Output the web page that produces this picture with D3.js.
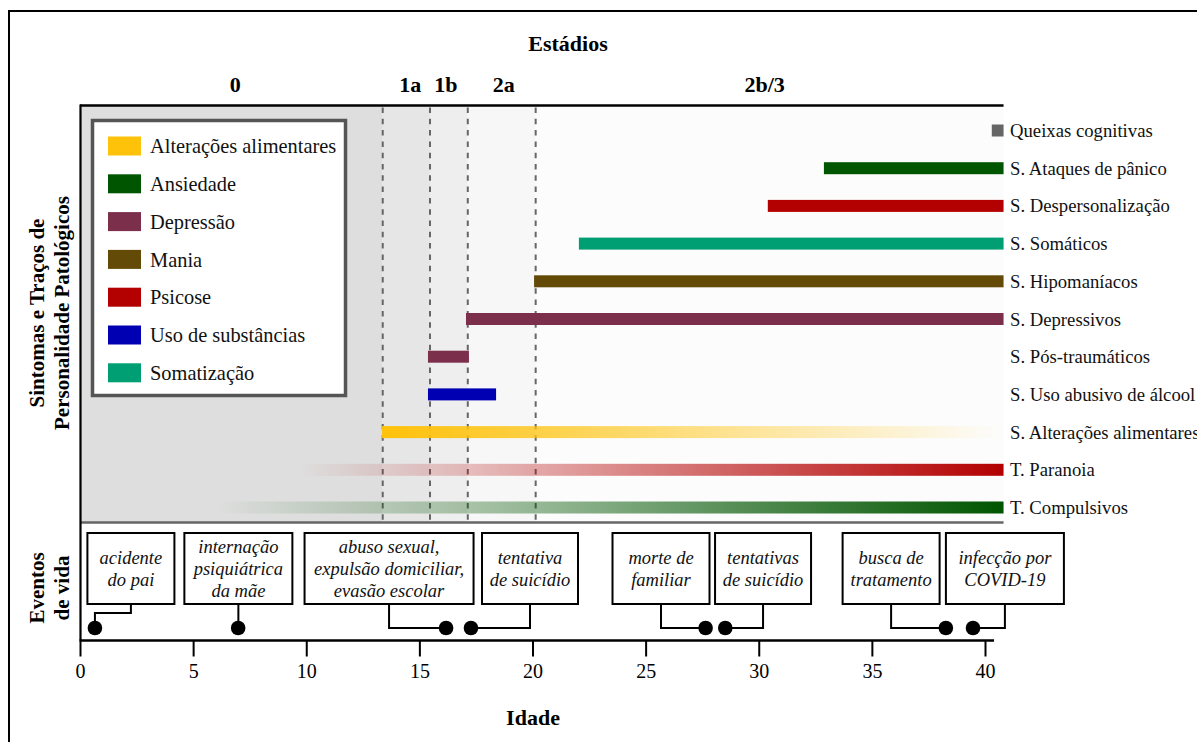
<!DOCTYPE html>
<html><head><meta charset="utf-8">
<script src="https://cdn.jsdelivr.net/npm/d3@7"></script>
<style>
body{margin:0;background:#fff}
svg{display:block;font-family:"Liberation Serif","Times New Roman",serif}
</style>
</head><body><svg id="c" width="1197" height="742"></svg>
<script>
// ---------------- data ----------------
const stageLabels = ["0", "1a", "1b", "2a", "2b/3"];
const stageBounds = [0, 13.38, 15.47, 17.14, 20.14, 40.82];
const stageFills = ["#dedede", "#e6e6e6", "#eeeeee", "#f7f7f7", "#fcfcfc"];

const legendCategories = ["Alterações alimentares", "Ansiedade", "Depressão", "Mania", "Psicose", "Uso de substâncias", "Somatização"];
const legendColors = ["#ffc20a", "#005500", "#7b2f4b", "#634a07", "#b30000", "#0000b3", "#009e73"];

const rowLabels = ["Queixas cognitivas", "S. Ataques de pânico", "S. Despersonalização", "S. Somáticos", "S. Hipomaníacos", "S. Depressivos", "S. Pós-traumáticos", "S. Uso abusivo de álcool", "S. Alterações alimentares", "T. Paranoia", "T. Compulsivos"];
const barStart = [40.3, 32.88, 30.4, 22.05, 20.07, 17.06, 15.38, 15.38, 13.35, 9.7, 6.0];
const barEnd = [40.82, 40.82, 40.82, 40.82, 40.82, 40.82, 17.19, 18.39, 40.82, 40.82, 40.82];
const barCategory = ["Cognição", "Ansiedade", "Psicose", "Somatização", "Mania", "Depressão", "Depressão", "Uso de substâncias", "Alterações alimentares", "Psicose", "Ansiedade"];
const barFade = ["none", "none", "none", "none", "none", "none", "none", "none", "out", "in", "in"];

const eventAges = [0.66, 6.99, 16.18, 17.28, 27.65, 28.52, 38.27, 39.47];
const eventBoxAges = [2.25, 7.0, 13.66, 19.89, 25.68, 30.19, 35.85, 40.88];
const eventLabels = [
  ["acidente", "do pai"],
  ["internação", "psiquiátrica", "da mãe"],
  ["abuso sexual,", "expulsão domiciliar,", "evasão escolar"],
  ["tentativa", "de suicídio"],
  ["morte de", "familiar"],
  ["tentativas", "de suicídio"],
  ["busca de", "tratamento"],
  ["infecção por", "COVID-19"]
];
const xTicks = [0, 5, 10, 15, 20, 25, 30, 35, 40];

// ---------------- layout ----------------
const svg = d3.select("#c");
const x = d3.scaleLinear().domain([0, 40]).range([80, 985]);
const y = d3.scalePoint().domain(rowLabels).range([130.5, 507.5]);
const color = d3.scaleOrdinal().domain(legendCategories.concat(["Cognição"])).range(legendColors.concat(["#666666"]));
const panelTop = 105.5, panelBottom = 522.5, axisY = 640.5;
const barH = 12;
const stageLabelShift = [4, 4, -3, 2, -5];
const boxWidths = [87, 108, 169, 96, 97, 96, 97, 118];
const elbowY = [613, 628, 628, 628, 628, 628, 628, 628];
const boxTop = 533, boxBottom = 604, dotY = 628;

// outer frame
svg.append("rect").attr("x", 9).attr("y", 11).attr("width", 1210).attr("height", 760)
  .attr("fill", "none").attr("stroke", "#000").attr("stroke-width", 2);

// stage backgrounds
const stages = stageLabels.map((s, i) => ({label: s, a: stageBounds[i], b: stageBounds[i + 1], fill: stageFills[i], sh: stageLabelShift[i]}));
svg.append("g").selectAll("rect").data(stages).join("rect")
  .attr("x", d => x(d.a)).attr("y", panelTop)
  .attr("width", d => x(d.b) - x(d.a)).attr("height", panelBottom - panelTop)
  .attr("fill", d => d.fill);

// stage labels
svg.append("text").attr("x", 568).attr("y", 51).attr("text-anchor", "middle")
  .attr("font-weight", "bold").attr("font-size", 22).text("Estádios");
svg.append("g").selectAll("text").data(stages).join("text")
  .attr("x", d => (x(d.a) + x(d.b)) / 2 + d.sh)
  .attr("y", 92).attr("text-anchor", "middle")
  .attr("font-weight", "bold").attr("font-size", 22).text(d => d.label);

// dashed stage boundaries
svg.append("g").selectAll("line").data(stageBounds.slice(1, 5)).join("line")
  .attr("x1", d => x(d)).attr("x2", d => x(d))
  .attr("y1", panelTop + 2).attr("y2", panelBottom)
  .attr("stroke", "#666").attr("stroke-width", 2).attr("stroke-dasharray", "5.5,5.8");

// gradients
const defs = svg.append("defs");
const bars = rowLabels.map((r, i) => ({row: r, a: barStart[i], b: barEnd[i], cat: barCategory[i], fade: barFade[i], i}));
bars.filter(d => d.fade !== "none").forEach(d => {
  const g = defs.append("linearGradient").attr("id", "g" + d.i)
    .attr("gradientUnits", "userSpaceOnUse")
    .attr("x1", x(d.a)).attr("x2", x(d.b)).attr("y1", 0).attr("y2", 0);
  g.append("stop").attr("offset", 0).attr("stop-color", color(d.cat)).attr("stop-opacity", d.fade === "in" ? 0 : 1);
  g.append("stop").attr("offset", 1).attr("stop-color", color(d.cat)).attr("stop-opacity", d.fade === "in" ? 1 : 0);
});

// bars
svg.append("g").selectAll("rect").data(bars).join("rect")
  .attr("x", d => x(d.a)).attr("width", d => x(d.b) - x(d.a))
  .attr("y", d => y(d.row) - barH / 2).attr("height", barH)
  .attr("fill", d => d.fade === "none" ? color(d.cat) : `url(#g${d.i})`);

// row labels
svg.append("g").selectAll("text").data(rowLabels).join("text")
  .attr("x", 1010).attr("y", d => y(d)).attr("dy", "0.35em")
  .attr("font-size", 18.7).attr("fill", "#111").text(d => d);

// panel borders
svg.append("line").attr("x1", 80).attr("x2", x(40.82)).attr("y1", panelTop).attr("y2", panelTop)
  .attr("stroke", "#000").attr("stroke-width", 2.5);
svg.append("line").attr("x1", 80).attr("x2", x(40.82)).attr("y1", panelBottom).attr("y2", panelBottom)
  .attr("stroke", "#666").attr("stroke-width", 2.5);
svg.append("line").attr("x1", 80.5).attr("x2", 80.5).attr("y1", panelTop - 1).attr("y2", axisY)
  .attr("stroke", "#000").attr("stroke-width", 2.2);

// legend
const lg = svg.append("g");
lg.append("rect").attr("x", 92.5).attr("y", 120.5).attr("width", 253).attr("height", 275)
  .attr("fill", "#fff").attr("stroke", "#555").attr("stroke-width", 3.5);
const li = lg.selectAll("g").data(legendCategories).join("g")
  .attr("transform", (d, i) => `translate(0,${146 + i * 37.8})`);
li.append("rect").attr("x", 108).attr("y", -9.5).attr("width", 33).attr("height", 19).attr("fill", d => color(d));
li.append("text").attr("x", 150).attr("dy", "0.35em").attr("font-size", 20.4).attr("fill", "#111").text(d => d);

// y titles
const yt = svg.append("g").attr("font-weight", "bold").attr("font-size", 21).attr("text-anchor", "middle");
yt.append("text").attr("transform", "translate(44,313) rotate(-90)").text("Sintomas e Traços de");
yt.append("text").attr("transform", "translate(68.5,313) rotate(-90)").text("Personalidade Patológicos");
yt.append("text").attr("transform", "translate(44,588) rotate(-90)").text("Eventos");
yt.append("text").attr("transform", "translate(68.5,588) rotate(-90)").text("de vida");

// x axis
const ax = svg.append("g").attr("transform", `translate(0,${axisY})`)
  .call(d3.axisBottom(x).tickValues(xTicks).tickSize(16).tickSizeOuter(0).tickPadding(7).tickFormat(d3.format("d")));
ax.select(".domain").remove();
ax.selectAll(".tick line").attr("stroke", "#000").attr("stroke-width", 2);
ax.selectAll(".tick text").attr("font-size", 20).attr("font-family", "Liberation Serif").attr("fill", "#000");
svg.append("line").attr("x1", 79.5).attr("x2", x(40.4)).attr("y1", axisY).attr("y2", axisY)
  .attr("stroke", "#000").attr("stroke-width", 2.5);
svg.append("text").attr("x", 533).attr("y", 725).attr("text-anchor", "middle")
  .attr("font-weight", "bold").attr("font-size", 22).text("Idade");

// events
const events = eventAges.map((a, i) => ({age: a, boxAge: eventBoxAges[i], lines: eventLabels[i], w: boxWidths[i], ey: elbowY[i]}));
const ev = svg.append("g");
ev.selectAll("path").data(events).join("path")
  .attr("d", d => `M${x(d.boxAge)},${boxBottom}V${d.ey}H${x(d.age)}V${dotY}`)
  .attr("fill", "none").attr("stroke", "#000").attr("stroke-width", 2);
ev.selectAll("rect").data(events).join("rect")
  .attr("x", d => x(d.boxAge) - d.w / 2).attr("y", boxTop)
  .attr("width", d => d.w).attr("height", boxBottom - boxTop)
  .attr("fill", "#fff").attr("stroke", "#000").attr("stroke-width", 2);
ev.selectAll("circle").data(events).join("circle")
  .attr("cx", d => x(d.age)).attr("cy", dotY).attr("r", 7.3).attr("fill", "#000");
const et = ev.selectAll("text.ev").data(events).join("text").attr("class", "ev")
  .attr("font-style", "italic").attr("font-size", 18.5).attr("text-anchor", "middle").attr("fill", "#111");
et.selectAll("tspan").data(d => d.lines.map((l, j) => ({l, j, n: d.lines.length, cx: x(d.boxAge)}))).join("tspan")
  .attr("x", d => d.cx)
  .attr("y", d => (boxTop + boxBottom) / 2 + (d.j - (d.n - 1) / 2) * 22)
  .attr("dy", "0.33em").text(d => d.l);
</script></body></html>
